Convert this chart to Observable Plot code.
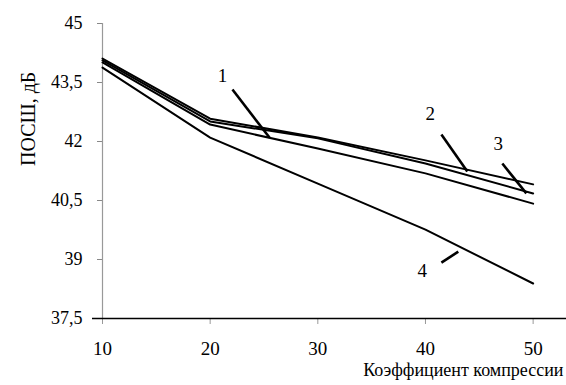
<!DOCTYPE html>
<html>
<head>
<meta charset="utf-8">
<script src="https://cdn.jsdelivr.net/npm/d3@7"></script>
<script src="https://cdn.jsdelivr.net/npm/@observablehq/plot@0.6"></script>
<style>
  html, body { margin: 0; padding: 0; background: #fff; }
  svg, svg text, svg g { font-family: "Liberation Serif", "DejaVu Serif", serif !important; }
</style>
</head>
<body>
<div id="chart"></div>
<script>
// X values (compression ratio)
const xValues = [10, 20, 30, 40, 50];
// PSNR series (dB)
const series1 = [44.01, 42.43, 41.82, 41.19, 40.42];
const series2 = [44.11, 42.58, 42.10, 41.52, 40.91];
const series3 = [44.06, 42.51, 42.08, 41.44, 40.68];
const series4 = [43.88, 42.10, 40.93, 39.76, 38.39];
const seriesNames = ["1", "2", "3", "4"];

// Tick labels
const xTicks = [10, 20, 30, 40, 50];
const yTicks = [37.5, 39, 40.5, 42, 43.5, 45];

// Annotation labels and leader lines (data coordinates)
const labelX = [21.14, 40.45, 46.77, 39.71];
const labelY = [43.68, 42.71, 41.95, 38.72];
const leaderX1 = [22.07, 41.48, 47.14, 41.48];
const leaderY1 = [43.32, 42.18, 41.44, 38.92];
const leaderX2 = [25.51, 43.89, 49.37, 43.05];
const leaderY2 = [42.10, 41.24, 40.68, 39.20];

const xLabel = "Коэффициент компрессии";
const yLabel = "ПОСШ, дБ";

const allSeries = [series1, series2, series3, series4];
const rows = allSeries.flatMap((s, i) => s.map((v, j) => ({x: xValues[j], y: v, s: seriesNames[i]})));
const labels = seriesNames.map((n, i) => ({n, x: labelX[i], y: labelY[i]}));
const leaders = seriesNames.map((n, i) => ({x1: leaderX1[i], y1: leaderY1[i], x2: leaderX2[i], y2: leaderY2[i]}));

const fmt = d => String(d).replace(".", ",");
const serif = "Liberation Serif";

const chart = Plot.plot({
  width: 566,
  height: 385,
  marginLeft: 102,
  marginTop: 23,
  marginBottom: 67,
  marginRight: 0,
  style: {background: "#fff"},
  x: {domain: [10, 53.1]},
  y: {domain: [37.5, 45]},
  marks: [
    Plot.axisY({ticks: yTicks, tickFormat: fmt, tickSize: 5, tickPadding: 15, stroke: "#888", fill: "#000", fontSize: 18, fontFamily: serif, label: null}),
    Plot.axisX({ticks: xTicks, tickSize: 6, tickPadding: 17, stroke: "#999", fill: "#000", fontSize: 19, fontFamily: serif, label: null}),
    Plot.ruleX([10], {stroke: "#999", strokeWidth: 1.2}),
    Plot.ruleY([37.5], {stroke: "#000", strokeWidth: 1.6, insetLeft: -10}),
    Plot.line(rows, {x: "x", y: "y", z: "s", stroke: "#000", strokeWidth: 2}),
    Plot.link(leaders, {x1: "x1", y1: "y1", x2: "x2", y2: "y2", stroke: "#000", strokeWidth: 2.6}),
    Plot.text(labels, {x: "x", y: "y", text: "n", fontSize: 19, fontFamily: serif, fill: "#000"}),
    Plot.text([yLabel], {frameAnchor: "left", rotate: -90, dx: -74, dy: -5, fontSize: 20, fontFamily: serif, fill: "#000"}),
    Plot.text([xLabel], {frameAnchor: "bottom-right", textAnchor: "end", dx: -3, dy: 57, fontSize: 18, fontFamily: serif, fill: "#000"})
  ]
});
document.getElementById("chart").appendChild(chart);
</script>
</body>
</html>
